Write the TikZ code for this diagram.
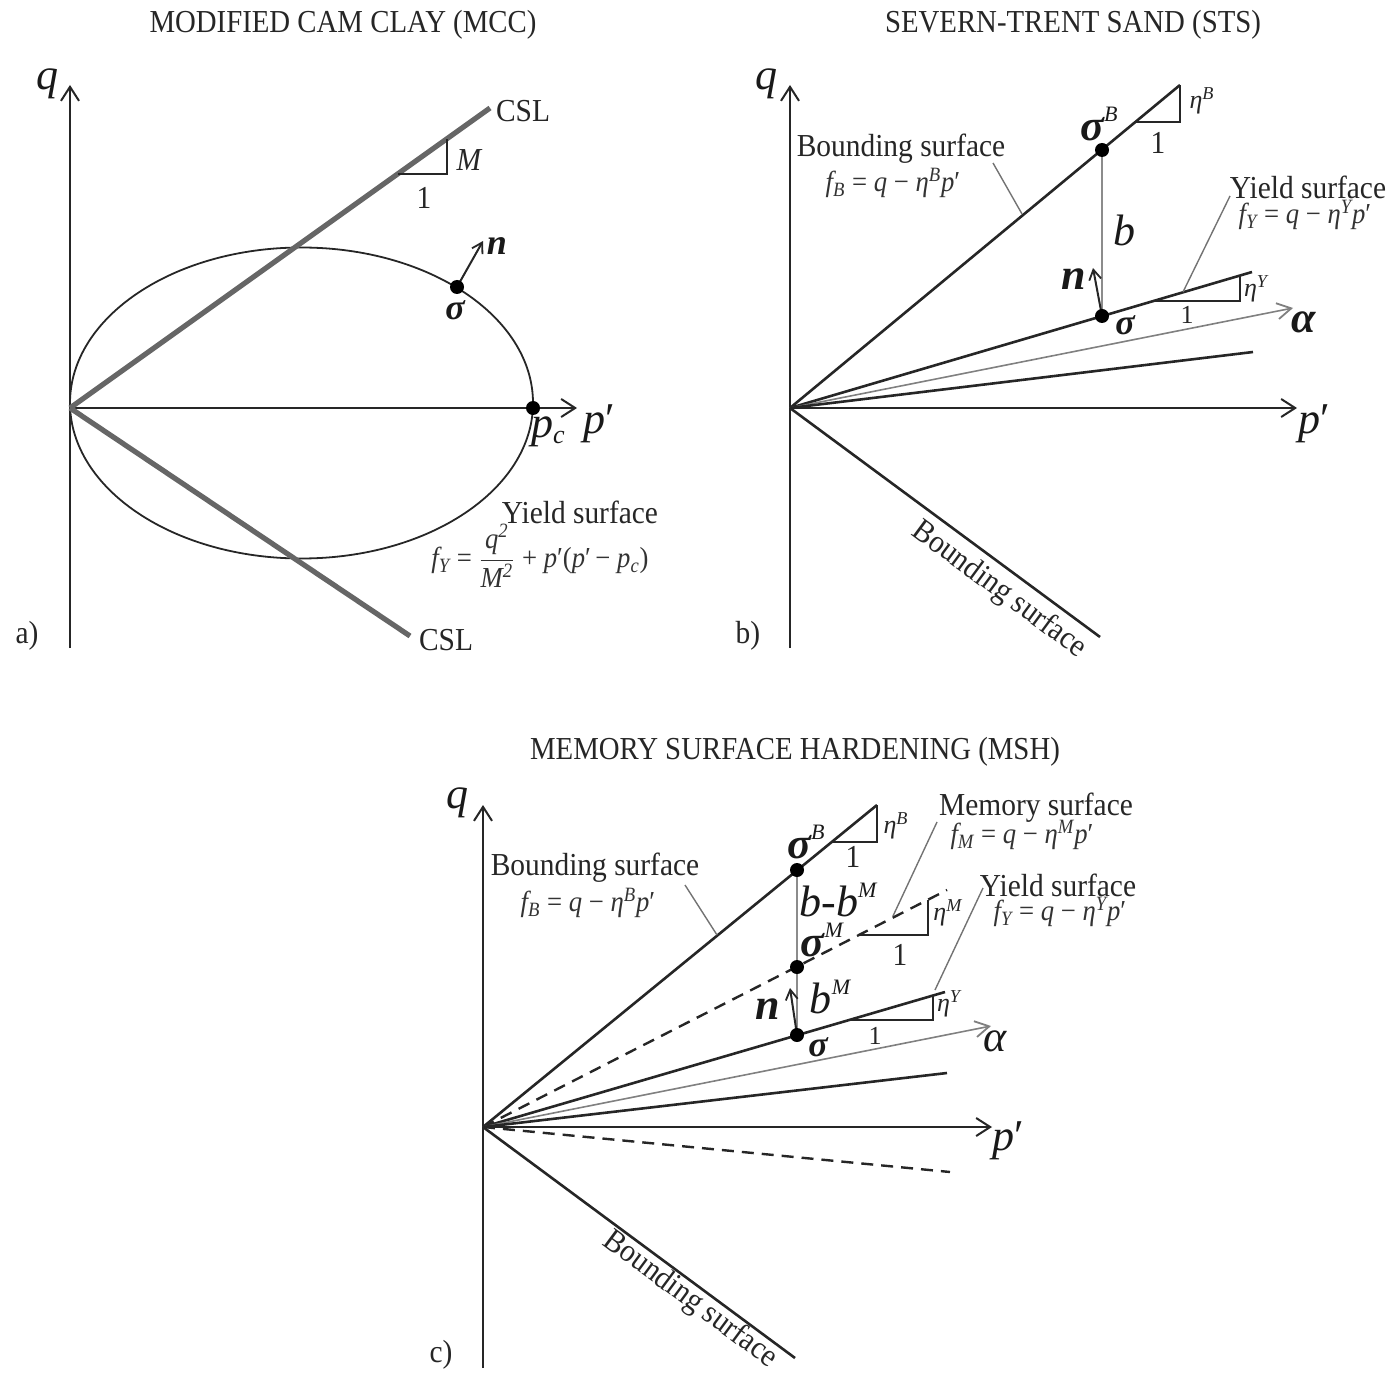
\documentclass[tikz,border=0pt]{standalone}
\usepackage{fontspec}
\setmainfont{Liberation Serif}
\usetikzlibrary{arrows.meta}
\newcommand\vv[1]{{\itshape #1}}
\newcommand\bs[1]{{\bfseries\itshape #1}}
\newcommand\prm{′}
\begin{document}
\begin{tikzpicture}[x=0.5pt,y=-0.5pt,
  axis/.style={draw=black!85,line width=1.3pt,-{Straight Barb[length=7pt,width=9pt,line width=1pt]}},
  mainline/.style={draw=black!85,line width=1.3pt},
  thinline/.style={draw=black!85,line width=0.9pt},
  csl/.style={draw=black!60,line width=2.6pt},
  greyline/.style={draw=black!45,line width=0.8pt},
  alphaline/.style={draw=black!50,line width=0.8pt,-{Straight Barb[length=7pt,width=8pt,line width=0.9pt]}},
  narrow/.style={draw=black!85,line width=1pt,-{Straight Barb[length=5pt,width=6pt,line width=0.9pt]}},
  dashline/.style={draw=black!85,line width=1.2pt,dash pattern=on 6pt off 4pt},
  leader/.style={draw=black!55,line width=0.7pt},
  ttl/.style={font=\fontsize{16}{18}\selectfont,xscale=0.9,inner sep=0,text=black!85},
  lbl/.style={font=\fontsize{16}{18}\selectfont,xscale=0.92,inner sep=0,text=black!85},
  frm/.style={font=\fontsize{14.5}{16}\selectfont,xscale=0.92,inner sep=0,text=black!80},
  big/.style={font=\fontsize{22}{24}\selectfont,inner sep=0,text=black!90},
  mid/.style={font=\fontsize{18}{20}\selectfont,inner sep=0,text=black!90},
  sml/.style={font=\fontsize{13}{15}\selectfont,inner sep=0,text=black!85},
  dot/.style={fill=black}
]
\useasboundingbox (0,0) rectangle (1396,1379);

% ================= Panel a =================
\node[ttl] (ta) at (343,25) {MODIFIED CAM CLAY (MCC)};
\coordinate (Oa) at (70,408);
\coordinate (qa0) at (70,648);
\coordinate (qa) at (70,85);
\coordinate (pa) at (577,408);
\draw[axis] (qa0) -- (qa);
\draw[axis] (Oa) -- (pa);
\draw[thinline] (301.5,403) ellipse [x radius=231.5, y radius=155.5];
\coordinate (cslU) at (490,108);
\coordinate (cslL) at (410,636);
\draw[csl] (Oa) -- (cslU);
\draw[csl] (Oa) -- (cslL);
\draw[thinline] (398,174) -- (447,174) -- (447,139);
\node[lbl] (cslUl) at (523,111) {CSL};
\node[lbl] (cslLl) at (446,640) {CSL};
\node[lbl] (Ml) at (469,160) {\vv{M}};
\node[lbl] (onea) at (424,198) {1};
\coordinate (sa) at (457,287);
\coordinate (na) at (483,241);
\draw[narrow] (sa) -- (na);
\fill[dot] (sa) circle [radius=7];
\coordinate (pc) at (533,408);
\fill[dot] (pc) circle [radius=7];
\node[mid] (sal) at (455,310) {\bs{σ}};
\node[mid] (nal) at (497,246) {\bs{n}};
\node[big] (qal) at (47,84) {\vv{q}};
\node[big] (pal) at (599,424) {\vv{p}\prm};
\node[big] (pcl) at (548,432) {\vv{p}\raisebox{-0.3ex}{\fontsize{13}{14}\selectfont\itshape c}};
\node[lbl] (ysa) at (580,512) {Yield surface};
\node[frm] (fya) at (540,556) {\vv{f}\textsubscript{\itshape Y} = $\displaystyle\frac{\hbox{\itshape q\textsuperscript{2}}}{\hbox{\itshape M\textsuperscript{2}}}$ + \vv{p}\prm(\vv{p}\prm\,− \vv{p}\textsubscript{\itshape c})};
\node[lbl] (la) at (27,636) {a)};

% ================= Panel b =================
\node[ttl] (tb) at (1073,25) {SEVERN-TRENT SAND (STS)};
\coordinate (Ob) at (790,408);
\coordinate (qb0) at (790,648);
\coordinate (qb) at (790,85);
\coordinate (pb) at (1297,408);
\draw[axis] (qb0) -- (qb);
\draw[axis] (Ob) -- (pb);
\coordinate (bU) at (1180,85);
\coordinate (bL) at (1100,637);
\coordinate (yb) at (1252,272);
\coordinate (ab) at (1293,308);
\coordinate (lb) at (1253,352);
\coordinate (sBb) at (1102,150);
\coordinate (sb) at (1102,316);
\draw[mainline] (Ob) -- (bU);
\draw[mainline] (Ob) -- (bL);
\draw[mainline] (Ob) -- (yb);
\draw[alphaline] (Ob) -- (ab);
\draw[mainline] (Ob) -- (lb);
\draw[greyline] (sBb) -- (sb);
\draw[thinline] (1135,122) -- (1180,122) -- (1180,85);
\draw[thinline] (1154,301) -- (1240,301) -- (1240,276);
\coordinate (nb) at (1093,268);
\draw[narrow] (sb) -- (nb);
\fill[dot] (sBb) circle [radius=7];
\fill[dot] (sb) circle [radius=7];
\coordinate (ld1a) at (993,163);
\coordinate (ld1b) at (1022,214);
\draw[leader] (ld1a) -- (ld1b);
\coordinate (ld2a) at (1230,196);
\coordinate (ld2b) at (1183,292);
\draw[leader] (ld2a) -- (ld2b);
\node[big] (qbl) at (766,84) {\vv{q}};
\node[big] (pbl) at (1314,424) {\vv{p}\prm};
\node[big] (sBl) at (1099,124) {\bs{σ}\raisebox{0.9ex}{\fontsize{11}{12}\selectfont\itshape B}};
\node[sml] (eBb) at (1202,101) {\vv{η}\textsuperscript{\itshape B}};
\node[lbl] (oneb1) at (1158,143) {1};
\node[lbl] (bsb) at (901,149) {Bounding surface};
\node[frm] (fbb) at (893,183) {\vv{f}\textsubscript{\itshape B} = \vv{q} − \vv{η}\textsuperscript{\itshape B}\vv{p}\prm};
\node[big] (bl) at (1124,230) {\vv{b}};
\node[lbl] (ysb) at (1308,187) {Yield surface};
\node[frm] (fyb) at (1305,215) {\vv{f}\textsubscript{\itshape Y} = \vv{q} − \vv{η}\textsuperscript{\itshape Y}\vv{p}\prm};
\node[sml] (eYb) at (1256,289) {\vv{η}\textsuperscript{\itshape Y}};
\node[sml] (oneb2) at (1187,315) {1};
\node[big] (nbl) at (1074,279) {\bs{n}};
\node[mid] (sbl) at (1125,325) {\bs{σ}};
\node[big] (abl) at (1304,322) {\bs{α}};
\node[rotate=-36.4,lbl] (bsb2) at (999,590) {Bounding surface};
\node[lbl] (lb2) at (748,636) {b)};

% ================= Panel c =================
\node[ttl] (tc) at (795,752) {MEMORY SURFACE HARDENING (MSH)};
\coordinate (Oc) at (483,1127);
\coordinate (qc0) at (483,1368);
\coordinate (qc) at (483,805);
\coordinate (pcx) at (992,1127);
\draw[axis] (qc0) -- (qc);
\draw[axis] (Oc) -- (pcx);
\coordinate (bUc) at (877,805);
\coordinate (bLc) at (795,1358);
\coordinate (mc) at (947,890);
\coordinate (yc) at (945,992);
\coordinate (ac) at (991,1026);
\coordinate (lc) at (947,1073);
\coordinate (dc) at (950,1172);
\coordinate (sBc) at (797,870);
\coordinate (sMc) at (797,967);
\coordinate (sc) at (797,1035);
\draw[mainline] (Oc) -- (bUc);
\draw[mainline] (Oc) -- (bLc);
\draw[dashline] (Oc) -- (mc);
\draw[mainline] (Oc) -- (yc);
\draw[alphaline] (Oc) -- (ac);
\draw[mainline] (Oc) -- (lc);
\draw[dashline] (Oc) -- (dc);
\draw[greyline] (sBc) -- (sc);
\draw[thinline] (832,842) -- (877,842) -- (877,805);
\draw[thinline] (859,935) -- (928,935) -- (928,900);
\draw[thinline] (849,1020) -- (933,1020) -- (933,996);
\coordinate (nc) at (790,988);
\draw[narrow] (sc) -- (nc);
\fill[dot] (sBc) circle [radius=7];
\fill[dot] (sMc) circle [radius=7];
\fill[dot] (sc) circle [radius=7];
\coordinate (lc1a) at (685,885);
\coordinate (lc1b) at (717,935);
\draw[leader] (lc1a) -- (lc1b);
\coordinate (lc2a) at (937,822);
\coordinate (lc2b) at (893,916);
\draw[leader] (lc2a) -- (lc2b);
\coordinate (lc3a) at (983,888);
\coordinate (lc3b) at (935,990);
\draw[leader] (lc3a) -- (lc3b);
\node[big] (qcl) at (457,803) {\vv{q}};
\node[big] (pcl2) at (1008,1141) {\vv{p}\prm};
\node[big] (sBcl) at (806,842) {\bs{σ}\raisebox{0.9ex}{\fontsize{11}{12}\selectfont\itshape B}};
\node[sml] (eBc) at (896,826) {\vv{η}\textsuperscript{\itshape B}};
\node[lbl] (onec1) at (853,857) {1};
\node[lbl] (bsc) at (595,868) {Bounding surface};
\node[frm] (fbc) at (588,903) {\vv{f}\textsubscript{\itshape B} = \vv{q} − \vv{η}\textsuperscript{\itshape B}\vv{p}\prm};
\node[lbl] (msc) at (1036,808) {Memory surface};
\node[frm] (fmc) at (1022,835) {\vv{f}\textsubscript{\itshape M} = \vv{q} − \vv{η}\textsuperscript{\itshape M}\vv{p}\prm};
\node[lbl] (ysc) at (1058,885) {Yield surface};
\node[frm] (fyc) at (1060,912) {\vv{f}\textsubscript{\itshape Y} = \vv{q} − \vv{η}\textsuperscript{\itshape Y}\vv{p}\prm};
\node[sml] (eMc) at (948,913) {\vv{η}\textsuperscript{\itshape M}};
\node[lbl] (onec2) at (900,955) {1};
\node[big] (bbm) at (838,900) {\vv{b}-\vv{b}\raisebox{0.9ex}{\fontsize{11}{12}\selectfont\itshape M}};
\node[big] (sMcl) at (822,940) {\bs{σ}\raisebox{0.9ex}{\fontsize{11}{12}\selectfont\itshape M}};
\node[big] (bMl) at (830,997) {\vv{b}\raisebox{0.9ex}{\fontsize{11}{12}\selectfont\itshape M}};
\node[big] (ncl) at (768,1009) {\bs{n}};
\node[mid] (scl) at (818,1047) {\bs{σ}};
\node[sml] (eYc) at (949,1004) {\vv{η}\textsuperscript{\itshape Y}};
\node[sml] (onec3) at (875,1036) {1};
\node[big] (acl) at (995,1041) {\vv{α}};
\node[rotate=-36.5,lbl] (bsc2) at (690,1300) {Bounding surface};
\node[lbl] (lcl) at (441,1355) {c)};
\end{tikzpicture}
\end{document}
